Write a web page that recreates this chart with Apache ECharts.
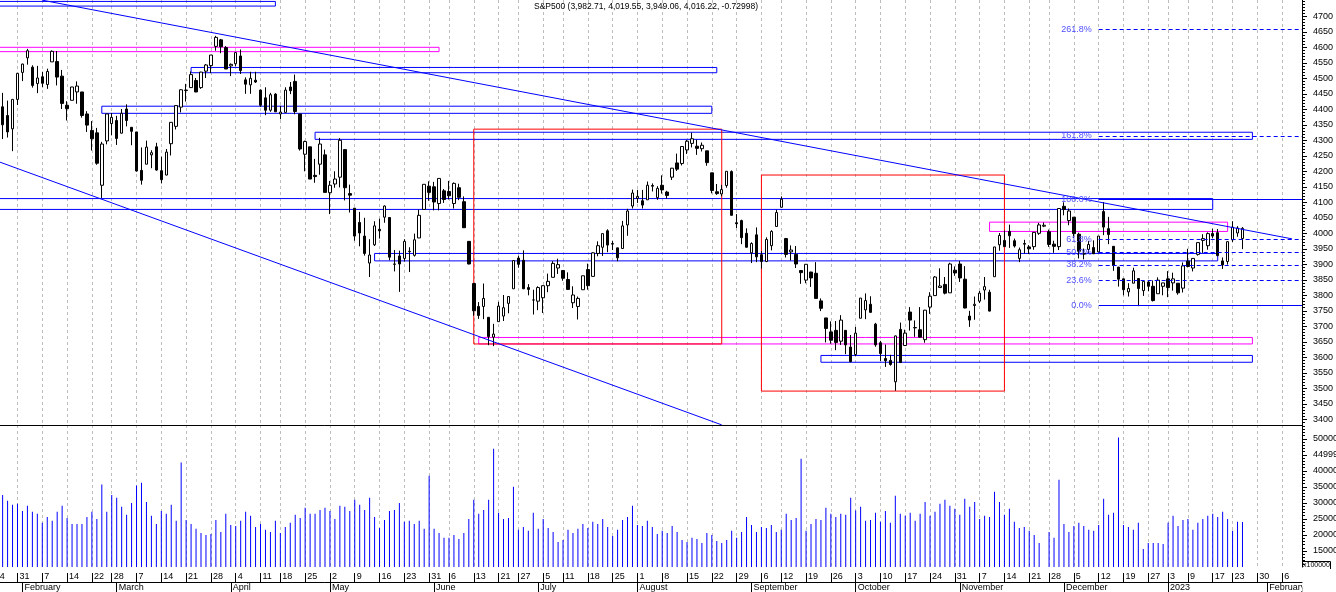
<!DOCTYPE html>
<html>
<head>
<meta charset="utf-8">
<title>S&P500</title>
<script src="https://cdn.jsdelivr.net/npm/echarts@6.0.0/dist/echarts.min.js"></script>
<style>
html, body { margin: 0; padding: 0; background: #fff; }
#chart { width: 1336px; height: 592px; }
</style>
</head>
<body>
<div id="chart"></div>
<script>
// trading calendar (NYSE), Jan 24 2022 .. Feb 10 2023
const holidays = ['2022-02-21', '2022-04-15', '2022-05-30', '2022-06-20', '2022-07-04',
  '2022-09-05', '2022-11-24', '2022-12-26', '2023-01-02', '2023-01-16'];
const firstDay = '2022-01-24';
const lastDay = '2023-02-10';

// daily candles from 2022-01-24: [open, close, low, high]
const ohlc = [
  [4356,4410,4223,4417],[4367,4357,4287,4411],[4408,4350,4304,4453],[4380,4327,4309,4428],[4337,4432,4265,4432],
  [4432,4516,4414,4516],[4519,4546,4491,4547],[4566,4589,4544,4595],[4536,4477,4470,4542],[4483,4501,4452,4540],
  [4505,4484,4471,4521],[4480,4522,4466,4531],[4553,4587,4553,4590],[4554,4504,4477,4588],[4507,4419,4401,4527],
  [4413,4402,4364,4426],[4429,4472,4429,4472],[4456,4475,4418,4490],[4456,4380,4373,4456],[4385,4349,4327,4394],
  [4332,4305,4267,4362],[4324,4226,4221,4340],[4155,4288,4114,4295],[4298,4385,4287,4385],[4354,4374,4316,4388],
  [4364,4306,4285,4379],[4323,4387,4322,4401],[4401,4364,4345,4416],[4342,4329,4284,4342],[4327,4201,4199,4327],
  [4203,4171,4157,4277],[4223,4278,4223,4299],[4253,4260,4210,4268],[4279,4204,4202,4292],[4202,4173,4161,4247],
  [4188,4262,4187,4272],[4289,4358,4251,4358],[4345,4412,4335,4412],[4407,4463,4390,4465],[4462,4461,4425,4482],
  [4470,4512,4470,4522],[4493,4456,4455,4501],[4470,4520,4466,4521],[4523,4543,4501,4546],[4541,4575,4517,4575],
  [4603,4632,4589,4637],[4624,4602,4581,4627],[4599,4530,4530,4604],[4540,4545,4507,4548],[4547,4583,4539,4583],
  [4572,4525,4514,4593],[4495,4481,4450,4503],[4479,4500,4450,4521],[4494,4488,4485,4521],[4462,4413,4408,4464],
  [4437,4397,4381,4471],[4397,4447,4392,4453],[4449,4392,4392,4452],[4385,4391,4368,4411],[4390,4462,4390,4471],
  [4472,4460,4449,4488],[4490,4393,4384,4512],[4385,4272,4267,4385],[4255,4296,4200,4299],[4279,4175,4175,4279],
  [4187,4183,4163,4240],[4223,4288,4189,4308],[4253,4132,4132,4270],[4131,4155,4062,4169],[4159,4175,4147,4200],
  [4181,4300,4148,4307],[4270,4147,4106,4270],[4128,4123,4067,4157],[4081,3991,3976,4081],[4035,4001,3958,4069],
  [3991,3935,3928,4050],[3904,3930,3859,3981],[3963,4024,3959,4039],[4013,4008,3983,4047],[4052,4088,4034,4090],
  [4051,3923,3913,4052],[3900,3901,3877,3946],[3927,3901,3811,3944],[3919,3974,3909,3981],[3942,3941,3875,3955],
  [3929,3979,3925,3999],[3985,4058,3985,4076],[4077,4158,4077,4158],[4152,4132,4105,4168],[4150,4101,4074,4166],
  [4096,4177,4074,4177],[4137,4109,4098,4143],[4135,4121,4109,4169],[4096,4161,4080,4164],[4147,4116,4107,4160],
  [4102,4018,4017,4119],[3974,3901,3900,3974],[3838,3750,3734,3838],[3764,3735,3724,3778],[3764,3790,3723,3838],
  [3729,3667,3639,3729],[3665,3675,3636,3708],[3715,3765,3715,3779],[3733,3760,3717,3801],[3774,3796,3742,3796],
  [3821,3912,3821,3913],[3920,3900,3889,3928],[3913,3821,3820,3945],[3825,3819,3800,3836],[3785,3785,3738,3818],
  [3781,3825,3752,3829],[3792,3831,3743,3832],[3831,3845,3810,3870],[3858,3903,3858,3910],[3888,3899,3869,3918],
  [3880,3855,3847,3880],[3851,3819,3817,3874],[3776,3801,3759,3829],[3764,3790,3722,3796],[3818,3863,3818,3863],
  [3883,3831,3818,3902],[3861,3937,3860,3939],[3935,3960,3926,3974],[3955,3999,3927,3999],[4008,3962,3939,4013],
  [3965,3967,3946,3975],[3953,3921,3910,3953],[3951,4024,3951,4040],[4027,4072,3992,4079],[4088,4130,4080,4141],
  [4113,4119,4098,4140],[4105,4091,4080,4140],[4108,4155,4108,4167],[4154,4152,4135,4161],[4115,4145,4108,4152],
  [4155,4140,4128,4187],[4133,4122,4112,4137],[4181,4210,4172,4211],[4227,4207,4201,4257],[4225,4280,4219,4280],
  [4269,4297,4256,4301],[4290,4305,4277,4325],[4281,4274,4253,4302],[4273,4284,4264,4293],[4266,4228,4218,4266],
  [4195,4138,4129,4195],[4134,4128,4124,4159],[4127,4141,4119,4156],[4154,4200,4147,4200],[4199,4058,4057,4203],
  [4034,4031,4017,4062],[4041,3986,3965,4044],[4000,3955,3954,4016],[3937,3967,3904,3971],[3995,3924,3907,4019],
  [3931,3909,3886,3943],[3909,3980,3907,3987],[3960,4006,3945,4010],[4022,4067,4022,4076],[4084,4110,4083,4119],
  [3983,3932,3922,3985],[3940,3946,3912,3961],[3932,3901,3888,3959],[3880,3873,3837,3880],[3849,3900,3839,3900],
  [3875,3856,3827,3876],[3871,3790,3789,3907],[3782,3758,3749,3790],[3727,3693,3648,3727],[3682,3655,3644,3716],
  [3687,3648,3623,3717],[3652,3720,3640,3736],[3687,3640,3610,3687],[3633,3586,3584,3672],[3609,3678,3604,3698],
  [3726,3791,3726,3791],[3753,3783,3723,3806],[3771,3745,3744,3797],[3707,3640,3634,3711],[3647,3612,3588,3653],
  [3596,3589,3569,3641],[3590,3577,3573,3608],[3521,3669,3492,3670],[3690,3583,3583,3712],[3638,3678,3638,3689],
  [3746,3720,3686,3762],[3696,3695,3666,3719],[3689,3665,3664,3762],[3657,3752,3647,3753],[3762,3797,3740,3810],
  [3799,3859,3799,3862],[3825,3830,3824,3887],[3835,3807,3803,3859],[3808,3901,3808,3905],[3881,3872,3863,3893],
  [3901,3856,3843,3911],[3852,3759,3758,3894],[3733,3720,3698,3750],[3767,3771,3721,3796],[3781,3807,3775,3814],
  [3817,3828,3786,3859],[3810,3749,3748,3818],[3860,3956,3860,3956],[3963,3993,3944,4001],[3977,3957,3956,4009],
  [4006,3992,3953,4028],[3976,3959,3954,3983],[3919,3947,3907,3954],[3967,3965,3935,3979],[3956,3950,3933,3962],
  [3957,4003,3947,4004],[4000,4027,3995,4034],[4023,4026,4020,4035],[4005,3964,3956,4012],[3965,3958,3937,3976],
  [3957,4080,3946,4080],[4087,4077,4058,4100],[4041,4072,4026,4080],[4052,3999,3985,4052],[3997,3942,3919,4002],
  [3934,3933,3916,3951],[3948,3964,3936,3975],[3954,3934,3933,3977],[3940,3991,3938,3991],[4070,4020,3994,4101],
  [4015,3996,3965,4053],[3958,3896,3879,3959],[3891,3852,3828,3891],[3853,3818,3800,3854],[3811,3822,3796,3839],
  [3839,3879,3839,3889],[3854,3822,3765,3854],[3815,3845,3798,3845],[3843,3829,3813,3846],[3829,3783,3780,3848],
  [3805,3849,3805,3858],[3829,3840,3800,3840],[3853,3825,3794,3878],[3840,3853,3815,3873],[3839,3808,3802,3839],
  [3823,3895,3809,3906],[3910,3893,3890,3950],[3888,3919,3877,3920],[3932,3970,3928,3970],[3977,3983,3937,3997],
  [3960,3999,3947,4003],[3999,3991,3984,4015],[4002,3928,3926,4014],[3911,3898,3885,3922],[3909,3973,3899,3973],
  [3979,4020,3972,4039],[4001,4017,3989,4023],[3983,4016,3949,4020]
];

// daily volume (x100000) from 2022-01-24
const volume = [
  38000,36000,32500,30700,29400,29700,27500,29100,27200,26600,23800,25600,24400,27200,29100,25300,
  23400,23400,23400,25600,27200,25000,35700,27200,32500,31600,28800,26300,30000,35400,36300,30300,
  26000,23400,27500,26600,29400,24400,42600,24700,23400,21900,20600,20000,20300,24700,20900,26600,
  23100,22800,24400,27200,26000,22500,23400,21600,20900,24400,20600,22500,23800,26300,25300,28500,
  26600,26600,27800,28500,27500,25000,29100,28800,27500,31000,29400,27800,31600,25600,22200,24700,
  27500,27800,30000,24100,24400,23400,24400,21900,38500,21900,20600,19100,19100,20000,18700,20600,
  25000,31000,26600,27800,31000,46900,26900,25000,25300,35000,21600,22500,21300,26900,21900,25000,
  22200,20900,17800,18400,21600,20600,21900,23400,22200,24100,23400,25000,22500,19700,21600,24700,
  25600,29100,23100,22800,24400,22500,20300,21300,20600,22800,20900,18400,17800,19100,18700,17500,
  20600,20000,18100,17500,18400,21300,19100,20900,25600,23100,20900,22500,22200,23100,20900,21600,
  26600,24700,25300,43800,21300,23400,25000,24700,28500,26600,25600,26600,26300,31600,27600,28800,
  24400,24700,26900,24100,27500,23800,32200,26600,26000,26900,24400,26600,30300,26000,27200,29700,
  31000,29100,28200,26300,31300,28800,30300,25000,26000,25600,33500,30300,26300,28200,24100,22200,
  22500,21300,20000,17500,9000,20900,19100,37200,23400,20900,22800,23800,22800,21600,21300,23100,
  31300,26300,26900,50400,23100,22500,21600,23800,15600,17500,17500,17500,17200,23800,26000,22800,
  24700,25000,21600,23800,25000,26000,26600,25600,27200,25000,21300,24100,24000
];

const priceTicks = [3400,3450,3500,3550,3600,3650,3700,3750,3800,3850,3900,3950,4000,
  4050,4100,4150,4200,4250,4300,4350,4400,4450,4500,4550,4600,4650,4700];
const volTicks = [15000,20000,25000,30000,35000,40000,45000,50000];
const volTickText = ['15000','20000','25000','30000','35000','40000','44999','50000'];
const monthNames = ['January','February','March','April','May','June','July',
  'August','September','October','November','December'];

// drawn objects: [from, to, low, high]
const blueBoxes = [
  ['2022-01-24','2022-04-14',4733,4748],
  ['2022-03-22','2022-08-23',4518,4535],
  ['2022-02-24','2022-08-22',4387,4410],
  ['2022-04-27','2023-01-27',4303,4326],
  ['2022-01-24','2023-01-17',4077,4112],
  ['2022-05-13','2023-01-18',3911,3935],
  ['2022-09-22','2023-01-27',3584,3606]
];
const magentaBoxes = [
  ['2022-01-24','2022-06-02',4586,4600],
  ['2022-11-09','2023-01-20',4006,4036],
  ['2022-06-14','2023-01-27',3643,3664]
];
const redBoxes = [
  ['2022-06-13','2022-08-24',3643,4336],
  ['2022-09-06','2022-11-14',3491,4188]
];
const trendLines = [
  [['2022-02-07',4752],['2023-02-08',3982]],
  [['2022-01-24',4238],['2022-08-24',3382]]
];
const fibLabels = ['261.8%','161.8%','100.0%','61.8%','50.0%','38.2%','23.6%','0.0%'];
const fibPrices = [4658,4314,4110,3981,3939,3898,3848,3768];
const fibFrom = '2022-12-12';
const fibTo = '2023-02-10';

const title = 'S&P500 (3,982.71, 4,019.55, 3,949.06, 4,016.22, -0.72998)';

function tradingDays(from, to) {
  let out = [];
  let d = new Date(from + 'T00:00:00Z');
  let end = new Date(to + 'T00:00:00Z');
  while (d <= end) {
    let s = d.toISOString().slice(0, 10);
    let wd = d.getUTCDay();
    if (wd !== 0 && wd !== 6 && holidays.indexOf(s) < 0) out.push(s);
    d.setUTCDate(d.getUTCDate() + 1);
  }
  return out;
}
const dates = tradingDays(firstDay, lastDay);

function toDate(s) { return new Date(s + 'T00:00:00Z'); }
const weekStart = dates.map(function (s, i) {
  if (i === 0) return true;
  let a = toDate(dates[i - 1]), b = toDate(s);
  return b.getUTCDay() <= a.getUTCDay() || (b - a) >= 7 * 86400000;
});
const monthStart = dates.map(function (s, i) {
  return i > 0 && s.slice(5, 7) !== dates[i - 1].slice(5, 7);
});

let priceMinor = [];
for (let v = 3390; v <= 4750; v += 10) priceMinor.push(v);
let volMinor = [];
for (let v = 11000; v <= 54000; v += 1000) volMinor.push(v);

const FONT = 'Liberation Sans, Arial, sans-serif';
const PMIN = 3381.6, PMAX = 4752.6;
const VMIN = 10000, VMAX = 54300;

function box(b, color) {
  return [
    { xAxis: b[0], yAxis: b[2], itemStyle: { color: 'rgba(0,0,0,0)', borderColor: color, borderWidth: 1 } },
    { xAxis: b[1], yAxis: b[3] }
  ];
}
let areas = [];
blueBoxes.forEach(function (b) { areas.push(box(b, '#0000ff')); });
magentaBoxes.forEach(function (b) { areas.push(box(b, '#ff00ff')); });
redBoxes.forEach(function (b) { areas.push(box(b, '#ff0000')); });

let lines = [];
trendLines.forEach(function (t) {
  lines.push([
    { coord: t[0], lineStyle: { color: '#0000ff', width: 1, type: 'solid' } },
    { coord: t[1] }
  ]);
});
fibPrices.forEach(function (p, i) {
  let solid = fibLabels[i] === '100.0%' || fibLabels[i] === '0.0%';
  lines.push([
    {
      coord: [fibFrom, p],
      lineStyle: { color: '#0000ff', width: 1, type: solid ? 'solid' : [4, 3] },
      label: { show: true, position: 'start', formatter: fibLabels[i], color: '#5050ff',
        fontSize: 9, fontFamily: FONT, distance: 7 }
    },
    { coord: [fibTo, p] }
  ]);
});

const gridLine = { show: true, interval: function (i) { return weekStart[i]; },
  lineStyle: { color: '#bdbdbd', type: [3, 3], width: 1 } };

let myChart = echarts.init(document.getElementById('chart'));
let option = {
  animation: false,
  textStyle: { fontFamily: FONT },
  title: {
    text: title, left: 534, top: 2, padding: 0,
    textStyle: { fontSize: 8.5, fontWeight: 'normal', color: '#000', fontFamily: FONT }
  },
  grid: [
    { left: -7.3, right: 34, top: 0, height: 425, outerBoundsMode: 'none', containLabel: false },
    { left: -7.3, right: 34, top: 425, height: 142, outerBoundsMode: 'none', containLabel: false },
    { left: -7.3, right: 34, top: 567, height: 15, outerBoundsMode: 'none', containLabel: false }
  ],
  xAxis: [
    { type: 'category', gridIndex: 0, data: dates, boundaryGap: false,
      axisLine: { show: true, lineStyle: { color: '#000', width: 1 } },
      axisTick: { show: false }, axisLabel: { show: false }, splitLine: gridLine },
    { type: 'category', gridIndex: 1, data: dates, boundaryGap: false,
      axisLine: { show: false }, axisTick: { show: false }, axisLabel: { show: false }, splitLine: gridLine },
    { type: 'category', gridIndex: 2, data: dates, boundaryGap: false, position: 'bottom',
      axisLine: { show: true, lineStyle: { color: '#000', width: 1 } },
      axisTick: { show: true, inside: true, length: 9, interval: function (i) { return weekStart[i]; },
        lineStyle: { color: '#000' } },
      axisLabel: { show: true, inside: true, margin: 1, align: 'left', padding: [0, 0, 0, 2],
        fontSize: 9, color: '#000', fontFamily: FONT,
        interval: function (i) { return weekStart[i]; },
        formatter: function (v) { return String(parseInt(v.slice(8, 10), 10)); } },
      splitLine: { show: false } },
    { type: 'category', gridIndex: 2, data: dates, boundaryGap: false, position: 'bottom',
      axisLine: { show: false },
      axisTick: { show: true, inside: false, length: 10, interval: function (i) { return monthStart[i]; },
        lineStyle: { color: '#000' } },
      axisLabel: { show: true, margin: 1, align: 'left', padding: [0, 0, 0, 2],
        fontSize: 9, color: '#000', fontFamily: FONT,
        interval: function (i) { return monthStart[i]; },
        formatter: function (v) {
          let m = parseInt(v.slice(5, 7), 10);
          return m === 1 ? v.slice(0, 4) : monthNames[m - 1];
        } },
      splitLine: { show: false } }
  ],
  yAxis: [
    { type: 'value', gridIndex: 0, position: 'right', min: PMIN, max: PMAX,
      axisLine: { show: true, lineStyle: { color: '#000', width: 1 } },
      axisTick: { show: true, length: 5, customValues: priceTicks, lineStyle: { color: '#000' } },
      axisLabel: { show: true, customValues: priceTicks, margin: 11, fontSize: 9, color: '#000',
        fontFamily: FONT, formatter: function (v) { return String(v); } },
      splitLine: { show: false } },
    { type: 'value', gridIndex: 0, position: 'right', min: PMIN, max: PMAX,
      axisLine: { show: false },
      axisTick: { show: true, length: 3, customValues: priceMinor, lineStyle: { color: '#000' } },
      axisLabel: { show: false }, splitLine: { show: false } },
    { type: 'value', gridIndex: 1, position: 'right', min: VMIN, max: VMAX,
      axisLine: { show: true, lineStyle: { color: '#000', width: 1 } },
      axisTick: { show: true, length: 5, customValues: volTicks, lineStyle: { color: '#000' } },
      axisLabel: { show: true, customValues: volTicks, margin: 11, fontSize: 9, color: '#000',
        fontFamily: FONT, formatter: function (v) { return volTickText[volTicks.indexOf(v)]; } },
      splitLine: { show: false } },
    { type: 'value', gridIndex: 1, position: 'right', min: VMIN, max: VMAX,
      axisLine: { show: false },
      axisTick: { show: true, length: 3, customValues: volMinor, lineStyle: { color: '#000' } },
      axisLabel: { show: false }, splitLine: { show: false } },
    { type: 'value', gridIndex: 2, show: false }
  ],
  graphic: [
    { type: 'rect', z: 100, shape: { x: 1302.5, y: 583, width: 34, height: 9 },
      style: { fill: '#fff' } },
    { type: 'polyline', z: 100, shape: { points: [[1302, 561.5], [1330.5, 561.5], [1330.5, 569]] },
      style: { stroke: '#000', lineWidth: 1, fill: null } },
    { type: 'text', z: 100, x: 1303, y: 565.5,
      style: { text: 'x100000', fontSize: 7, fontFamily: FONT, fill: '#000', verticalAlign: 'middle' } }
  ],
  series: [
    {
      type: 'candlestick', name: 'S&P500', xAxisIndex: 0, yAxisIndex: 0,
      data: ohlc, barWidth: 3,
      itemStyle: { color: '#ffffff', color0: '#000000', borderColor: '#000000', borderColor0: '#000000', borderWidth: 1 },
      markArea: { silent: true, label: { show: false }, data: areas },
      markLine: { silent: true, symbol: ['none', 'none'], label: { show: false }, data: lines }
    },
    {
      type: 'bar', name: 'Volume', xAxisIndex: 1, yAxisIndex: 2,
      data: volume, barWidth: 1, itemStyle: { color: '#0000ff' }
    }
  ]
};
myChart.setOption(option);
</script>
</body>
</html>
